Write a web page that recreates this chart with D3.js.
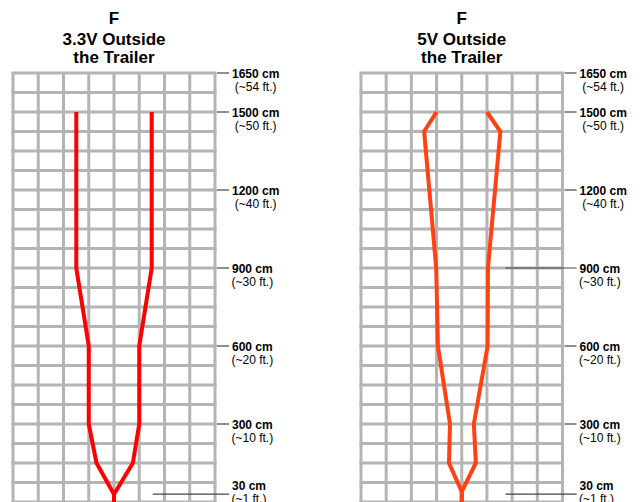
<!DOCTYPE html>
<html>
<head>
<meta charset="utf-8">
<script src="https://cdn.jsdelivr.net/npm/d3@7"></script>
<style>
  body { margin: 0; background: #fff; }
  text { font-family: Helvetica, Arial, "Liberation Sans", sans-serif; fill: #000; }
</style>
</head>
<body>
<div id="chart"></div>
<script>
// tick labels on the distance axis (cm)
const tickCm = [1650, 1500, 1200, 900, 600, 300, 30]
const tickFt = ["(~54 ft.)", "(~50 ft.)", "(~40 ft.)", "(~30 ft.)", "(~20 ft.)", "(~10 ft.)", "(~1 ft.)"]

// 3.3V outline: distance (cm) and lateral offset of each edge (cm)
const dist33 = [1500, 900, 600, 300, 150, 30, 0]
const left33 = [-112, -112, -75, -75, -52, 0, 0]
const right33 = [112, 112, 75, 75, 56, 0, 0]

// 5V outline
const dist5 = [1500, 1425, 900, 600, 300, 150, 40, 0]
const left5 = [-75, -112, -76, -71, -35, -38, 0, 0]
const right5 = [75, 115, 78, 77, 36, 42, 0, 0]

// ticks that get a long leader line into the grid
const leaders33 = [30]
const leaders5 = [900, 30]

const WIDTH = 642
const HEIGHT = 502

const svg = d3.select("#chart")
  .append("svg")
  .attr("width", WIDTH)
  .attr("height", HEIGHT)

const y = d3.scaleLinear().domain([0, 1650]).range([502, 73])

const drawPanel = (cfg) => {
  const x = d3.scaleLinear().domain([-300, 300]).range([cfg.x0, cfg.x1])
  const g = svg.append("g")
  const cx = x(0)

  // title
  const title = g.append("text")
    .attr("text-anchor", "middle")
    .style("font-weight", "bold")
    .style("font-size", "17px")
  cfg.title.forEach((t, i) => {
    title.append("tspan").attr("x", cx).attr("y", [24, 45, 63][i]).text(t)
  })

  // grid
  g.selectAll(".hline")
    .data(d3.range(0, 1651, 75))
    .enter()
    .append("line")
    .attr("x1", x(-300) - 1.5).attr("x2", x(300) + 1.5)
    .attr("y1", d => y(d)).attr("y2", d => y(d))
    .attr("stroke", "#b4b4b4").attr("stroke-width", 3)

  g.selectAll(".vline")
    .data(d3.range(-300, 301, 75))
    .enter()
    .append("line")
    .attr("x1", d => x(d)).attr("x2", d => x(d))
    .attr("y1", y(1650)).attr("y2", y(0))
    .attr("stroke", "#b4b4b4").attr("stroke-width", 3)

  // outline
  const line = d3.line().x(d => x(d[0])).y(d => y(d[1]))
  ;[cfg.left, cfg.right].forEach(side => {
    g.append("path")
      .datum(side.map((v, i) => [v, cfg.dist[i]]))
      .attr("d", line)
      .attr("fill", "none")
      .attr("stroke", cfg.color)
      .attr("stroke-width", 4)
      .attr("stroke-linejoin", "miter")
  })

  // distance ticks
  const right = x(300)
  tickCm.forEach((cm, i) => {
    const start = cfg.leaders.includes(cm) ? x(cfg.leaderFrom) : right + 2
    g.append("line")
      .attr("x1", start).attr("x2", right + 14)
      .attr("y1", y(cm)).attr("y2", y(cm))
      .attr("stroke", "#444").attr("stroke-width", 1.2)
    // keep the label close to the bottom edge from sliding off completely
    const base = Math.min(y(cm) + 4.5, HEIGHT - 12)
    const t1 = g.append("text")
      .attr("x", right + 17)
      .attr("y", base)
      .style("font-weight", "bold")
      .style("font-size", "12px")
      .text(cm + " cm")
    const w = t1.node().getComputedTextLength()
    g.append("text")
      .attr("x", right + 17 + w / 2)
      .attr("y", base + 13)
      .attr("text-anchor", "middle")
      .style("font-size", "12px")
      .text(tickFt[i])
  })
}

drawPanel({
  x0: 13, x1: 215,
  title: ["F", "3.3V Outside", "the Trailer"],
  dist: dist33, left: left33, right: right33,
  color: "#ff0000",
  leaders: leaders33, leaderFrom: 115
})

drawPanel({
  x0: 361, x1: 562.5,
  title: ["F", "5V Outside", "the Trailer"],
  dist: dist5, left: left5, right: right5,
  color: "#ff4114",
  leaders: leaders5, leaderFrom: 130
})
</script>
</body>
</html>
